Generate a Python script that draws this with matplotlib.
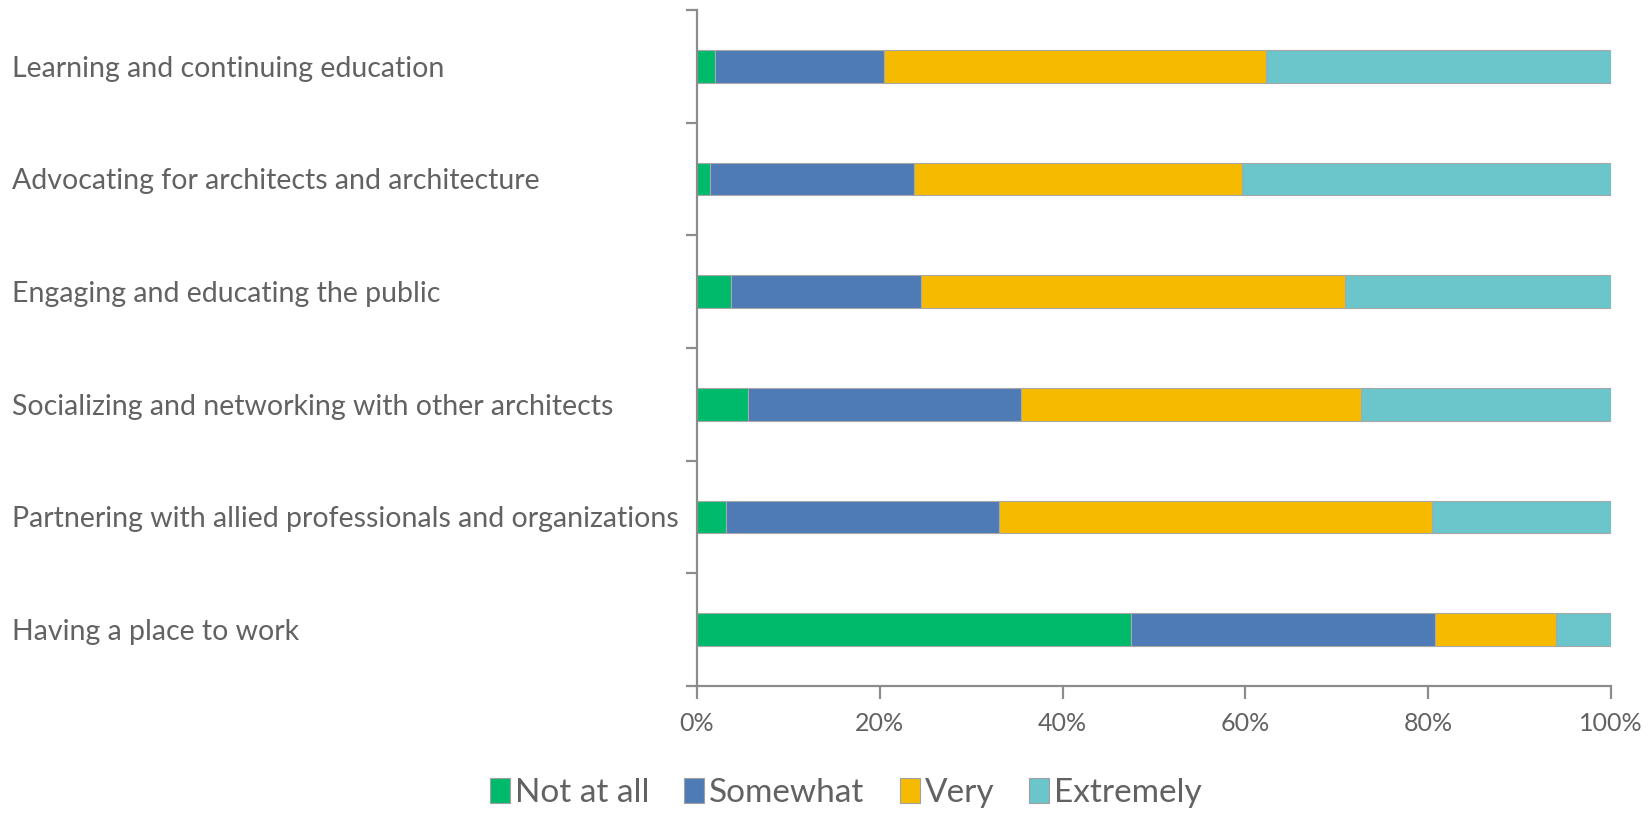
import matplotlib
matplotlib.use("Agg")
import matplotlib.pyplot as plt
from matplotlib.patches import Patch
from matplotlib.ticker import FixedLocator
import numpy as np

categories = [
    "Learning and continuing education",
    "Advocating for architects and architecture",
    "Engaging and educating the public",
    "Socializing and networking with other architects",
    "Partnering with allied professionals and organizations",
    "Having a place to work",
]
series_names = ["Not at all", "Somewhat", "Very", "Extremely"]
not_at_all = [2.0, 1.4, 3.7, 5.6, 3.2, 47.5]
somewhat = [18.5, 22.3, 20.8, 29.9, 29.8, 33.2]
very = [41.7, 35.9, 46.4, 37.1, 47.4, 13.3]
extremely = [37.8, 40.4, 29.1, 27.4, 19.6, 6.0]
x_ticks = [0, 20, 40, 60, 80, 100]
x_tick_labels = ["0%", "20%", "40%", "60%", "80%", "100%"]

colors = ["#00BA6C", "#4E7BB5", "#F6BB00", "#6AC6CA"]
text_color = "#626262"
axis_color = "#8C8C8C"

plt.rcParams["font.family"] = ["Lato", "DejaVu Sans"]

W, H, DPI = 1648, 815, 100
fig = plt.figure(figsize=(W / DPI, H / DPI), dpi=DPI)
ax = fig.add_axes([697 / W, 1 - 686 / H, (1611 - 697) / W, (686 - 10) / H])

y = np.arange(len(categories))
left = np.zeros(len(categories))
for vals, col, name in zip([not_at_all, somewhat, very, extremely], colors, series_names):
    vals = np.asarray(vals)
    ax.barh(y, vals, left=left, height=0.29, color=col, edgecolor="#a8a8a8",
            linewidth=0.8, label=name, zorder=2)
    left += vals

ax.set_xlim(0, 100)
ax.set_ylim(len(categories) - 0.5, -0.5)

for s in ["top", "right"]:
    ax.spines[s].set_visible(False)
for s in ["left", "bottom"]:
    ax.spines[s].set_color(axis_color)
    ax.spines[s].set_linewidth(1.6)

ax.set_xticks(x_ticks)
ax.set_xticklabels(x_tick_labels)
ax.tick_params(axis="x", colors=axis_color, length=9, width=1.6, pad=10,
               labelsize=18, labelcolor=text_color)

ax.set_yticks(y)
ax.set_yticklabels(categories, ha="left")
ax.yaxis.set_minor_locator(FixedLocator(np.arange(-0.5, len(categories), 1.0)))
ax.tick_params(axis="y", which="major", length=0, pad=(697 - 12) * 72 / DPI,
               labelsize=20.5, labelcolor=text_color)
ax.tick_params(axis="y", which="minor", length=8, width=1.6, color=axis_color)

handles = [Patch(facecolor=c, edgecolor="#a0a0a0", linewidth=0.8) for c in colors]
fig.legend(handles, series_names, loc="center",
           bbox_to_anchor=(846 / W, 1 - 793 / H), ncol=4, frameon=False,
           fontsize=24, handlelength=0.6, handleheight=0.75, handletextpad=0.15,
           columnspacing=1.05, labelcolor=text_color)

fig.savefig("out.png", dpi=DPI, facecolor="white")
